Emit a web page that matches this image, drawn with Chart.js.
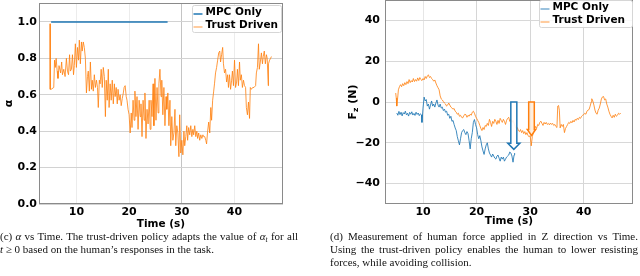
<!DOCTYPE html>
<html>
<head>
<meta charset="utf-8">
<script src="https://cdn.jsdelivr.net/npm/chart.js@4/dist/chart.umd.min.js"></script>
<style>
  body { margin: 0; background: #fff; width: 640px; height: 276px; overflow: hidden; position: relative; }
  canvas { position: absolute; top: 0; }
  .cap { position: absolute; font-family: 'Liberation Serif', serif; font-size: 11px; line-height: 13px; text-align: justify; color: #111; }
  .cap sub { font-size: 7.5px; line-height: 0; vertical-align: -2px; }
  .nw { white-space: nowrap; }
</style>
</head>
<body>
<canvas id="alphaChart" width="320" height="231" style="left:0"></canvas>
<canvas id="forceChart" width="320" height="231" style="left:320px"></canvas>
<div class="cap" style="left:0;top:230px;width:298px">(c) <i>α</i> vs Time. The trust-driven policy adapts the value of <i>α<sub>t</sub></i> for all <span class="nw"><i>t</i> ≥ 0</span> based on the human’s responses in the task.</div>
<div class="cap" style="left:330px;top:230px;width:308px">(d) Measurement of human force applied in Z direction vs Time. Using the trust-driven policy enables the human to lower resisting forces, while avoiding collision.</div>
<script>
// ---- data ----
const timeTicks = [10, 20, 30, 40];
const alphaTicks = [0, 0.2, 0.4, 0.6, 0.8, 1.0];
const forceTicks = [-40, -20, 0, 20, 40];

// (c) alpha vs time
const mpcAlphaTime = [5.2, 27.3];
const mpcAlpha = [1.0, 1.0];

const trustAlphaTime = [
  5.0, 5.03, 5.2, 5.7, 5.85, 6.0, 6.15, 6.35, 6.5, 6.7,
  7.0, 7.2, 7.35, 7.6, 7.85, 8.1, 8.3, 8.5, 8.7, 8.85,
  9.05, 9.25, 9.45, 9.6, 9.8, 10.0, 10.2, 10.4, 10.55, 10.75,
  10.95, 11.1, 11.3, 11.5, 11.7, 11.9, 12.1, 12.25, 12.45, 12.65,
  12.85, 13.0, 13.2, 13.4, 13.6, 13.8, 14.0, 14.15, 14.35, 14.5,
  14.7, 14.9, 15.1, 15.3, 15.5, 15.65, 15.85, 16.05, 16.2, 16.4,
  16.6, 16.8, 17.0, 17.2, 17.35, 17.55, 17.75, 17.9, 18.1, 18.3,
  18.5, 18.7, 18.9, 19.05, 19.25, 19.45, 19.6, 19.8, 20.0, 20.2,
  20.4, 20.55, 20.75, 20.95, 21.1, 21.3, 21.5, 21.7, 21.9, 22.1,
  22.25, 22.45, 22.65, 22.85, 23.0, 23.2, 23.4, 23.6, 23.8, 24.0,
  24.15, 24.35, 24.55, 24.7, 24.9, 25.1, 25.3, 25.5, 25.65, 25.85,
  26.05, 26.2, 26.4, 26.6, 26.8, 27.0, 27.15, 27.35, 27.55, 27.75,
  27.9, 28.1, 28.3, 28.5, 28.7, 28.85, 29.05, 29.25, 29.45, 29.6,
  29.8, 30.0, 30.2, 30.4, 30.55, 30.75, 30.95, 31.1, 31.3, 31.5,
  31.7, 31.9, 32.1, 32.25, 32.45, 32.65, 32.85, 33.0, 33.2, 33.4,
  33.6, 33.8, 34.0, 34.15, 34.35, 34.55, 34.7, 34.9, 35.1, 35.3,
  35.5, 35.65, 35.85, 36.05, 36.2, 36.4, 36.6, 36.8, 37.0, 37.2,
  37.35, 37.55, 37.75, 37.9, 38.1, 38.3, 38.5, 38.7, 38.85, 39.05,
  39.25, 39.45, 39.6, 39.8, 40.0, 40.2, 40.4, 40.55, 40.75, 40.95,
  41.1, 41.3, 41.5, 41.7, 41.9, 42.1, 42.25, 42.45, 42.65, 42.85,
  43.0, 43.2, 43.45, 43.7, 44.0, 44.15, 44.35, 44.55, 44.7, 44.9,
  45.1, 45.3, 45.45, 45.65, 45.85, 46.05, 46.2, 46.4, 46.45, 46.65,
  46.85, 47.0
];
const trustAlpha = [
  0.99, 0.63, 0.63, 0.64, 0.79, 0.75, 0.80, 0.73, 0.69, 0.76,
  0.72, 0.78, 0.71, 0.74, 0.70, 0.80, 0.73, 0.71, 0.82, 0.73,
  0.74, 0.82, 0.71, 0.76, 0.88, 0.75, 0.86, 0.79, 0.90, 0.77,
  0.89, 0.84, 0.89, 0.86, 0.80, 0.61, 0.70, 0.73, 0.62, 0.78,
  0.63, 0.68, 0.62, 0.71, 0.64, 0.68, 0.64, 0.53, 0.68, 0.66,
  0.74, 0.64, 0.75, 0.70, 0.48, 0.68, 0.57, 0.74, 0.53, 0.66,
  0.57, 0.68, 0.55, 0.66, 0.59, 0.64, 0.55, 0.63, 0.57, 0.60,
  0.54, 0.58, 0.61, 0.64, 0.65, 0.59, 0.57, 0.52, 0.49, 0.39,
  0.50, 0.42, 0.57, 0.46, 0.62, 0.48, 0.59, 0.41, 0.57, 0.48,
  0.55, 0.37, 0.57, 0.46, 0.61, 0.36, 0.52, 0.44, 0.57, 0.41,
  0.57, 0.48, 0.66, 0.43, 0.69, 0.46, 0.64, 0.50, 0.66, 0.74,
  0.59, 0.68, 0.49, 0.64, 0.43, 0.59, 0.52, 0.61, 0.43, 0.57,
  0.32, 0.48, 0.35, 0.39, 0.52, 0.32, 0.43, 0.39, 0.26, 0.49,
  0.28, 0.35, 0.27, 0.40, 0.32, 0.37, 0.43, 0.35, 0.42, 0.38,
  0.43, 0.37, 0.41, 0.38, 0.43, 0.37, 0.40, 0.36, 0.39, 0.35,
  0.38, 0.36, 0.38, 0.37, 0.37, 0.35, 0.33, 0.40, 0.45, 0.39,
  0.53, 0.46, 0.57, 0.62, 0.66, 0.72, 0.75, 0.79, 0.83, 0.84,
  0.78, 0.82, 0.86, 0.77, 0.72, 0.74, 0.67, 0.71, 0.64, 0.71,
  0.63, 0.68, 0.73, 0.65, 0.79, 0.64, 0.67, 0.74, 0.65, 0.78,
  0.68, 0.71, 0.64, 0.68, 0.65, 0.64, 0.53, 0.49, 0.56, 0.47,
  0.64, 0.63, 0.64, 0.64, 0.65, 0.72, 0.75, 0.88, 0.74, 0.78,
  0.83, 0.77, 0.81, 0.84, 0.77, 0.82, 0.80, 0.65, 0.77, 0.79,
  0.80, 0.81
];

// (d) force in Z vs time
const mpcForceTime = [
  5.1, 5.3, 5.5, 5.7, 5.9, 6.1, 6.3, 6.5, 6.7, 6.9,
  7.1, 7.3, 7.5, 7.7, 7.9, 8.1, 8.3, 8.5, 8.7, 8.9,
  9.1, 9.3, 9.5, 9.7, 9.8, 10.0, 10.2, 10.4, 10.6, 10.8,
  11.0, 11.2, 11.4, 11.6, 11.8, 12.0, 12.2, 12.4, 12.6, 12.8,
  13.0, 13.2, 13.4, 13.6, 13.8, 14.0, 14.2, 14.4, 14.6, 14.8,
  15.0, 15.2, 15.4, 15.6, 15.8, 16.0, 16.2, 16.4, 16.6, 16.8,
  17.0, 17.2, 17.4, 17.6, 17.8, 18.0, 18.2, 18.4, 18.6, 18.8,
  19.0, 19.2, 19.4, 19.6, 19.8, 20.0, 20.2, 20.4, 20.6, 20.8,
  21.0, 21.2, 21.4, 21.6, 21.8, 22.0, 22.2, 22.4, 22.6, 22.8,
  23.0, 23.2, 23.4, 23.6, 23.8, 24.0, 24.2, 24.4, 24.6, 24.8,
  25.0, 25.2, 25.4, 25.6, 25.8, 26.0, 26.2, 26.4, 26.6, 26.8,
  27.0, 27.1
];
const mpcForce = [
  -5.4, -6.5, -4.6, -6.2, -5.0, -6.8, -5.2, -5.9, -4.5, -6.3,
  -5.5, -6.9, -5.1, -6.0, -4.8, -6.4, -5.6, -6.6, -5.0, -6.1,
  -5.4, -6.7, -5.8, -6.3, -10, -3, 2.4, 0.5, 1.2, -2,
  -1, -3.5, -1.5, 0.5, -2, -1, -2.5, -0.5, 1, -1.5,
  -2.5, -1, -3, -2.5, -4.2, -3.5, -5, -4.5, -6.5, -6,
  -8, -7, -9.5, -9, -11, -12.7, -14, -17, -19, -21,
  -18, -15, -14, -13.5, -15, -16, -14.5, -15.5, -19, -23,
  -18, -15, -10, -8.6, -11, -12.7, -16, -18, -16.5, -19,
  -22, -24, -25.7, -23, -21, -20, -23, -25, -26, -27,
  -25.5, -26.5, -27.5, -28, -26.5, -26, -27.5, -29, -27, -28,
  -27, -29, -28, -27, -26.5, -26, -24.5, -25, -26.5, -29.5,
  -26, -25
];

const trustForceTime = [
  4.9, 5.0, 5.1, 5.3, 5.4, 5.6, 5.8, 6.0, 6.2, 6.4,
  6.6, 6.8, 7.0, 7.2, 7.4, 7.6, 7.8, 8.0, 8.2, 8.4,
  8.6, 8.8, 9.0, 9.2, 9.4, 9.6, 9.8, 10.0, 10.2, 10.4,
  10.6, 10.8, 11.0, 11.2, 11.4, 11.6, 11.8, 12.0, 12.2, 12.4,
  12.6, 12.8, 13.0, 13.2, 13.4, 13.6, 13.8, 14.0, 14.2, 14.4,
  14.6, 14.8, 15.0, 15.2, 15.4, 15.6, 15.8, 16.0, 16.2, 16.4,
  16.6, 16.8, 17.0, 17.2, 17.4, 17.6, 17.8, 18.0, 18.2, 18.4,
  18.6, 18.8, 19.0, 19.2, 19.4, 19.6, 19.8, 20.0, 20.2, 20.4,
  20.6, 20.8, 21.0, 21.2, 21.4, 21.6, 21.8, 22.0, 22.2, 22.4,
  22.6, 22.8, 23.0, 23.2, 23.4, 23.6, 23.8, 24.0, 24.2, 24.4,
  24.6, 24.8, 25.0, 25.2, 25.4, 25.6, 25.8, 26.0, 26.2, 26.4,
  26.6, 26.8, 27.0, 27.2, 27.4, 27.6, 27.8, 28.0, 28.2, 28.4,
  28.6, 28.8, 29.0, 29.2, 29.4, 29.6, 29.8, 30.0, 30.2, 30.4,
  30.6, 30.8, 31.0, 31.2, 31.4, 31.6, 31.8, 32.0, 32.2, 32.4,
  32.6, 32.8, 33.0, 33.2, 33.4, 33.6, 33.8, 34.0, 34.2, 34.4,
  34.6, 34.8, 35.0, 35.15, 35.3, 35.45, 35.6, 35.8, 36.0, 36.2,
  36.4, 36.6, 36.8, 37.0, 37.2, 37.4, 37.6, 37.8, 38.0, 38.2,
  38.4, 38.6, 38.8, 39.0, 39.2, 39.4, 39.6, 39.8, 40.0, 40.2,
  40.4, 40.6, 40.8, 41.0, 41.2, 41.4, 41.5, 41.7, 41.9, 42.1,
  42.3, 42.5, 42.7, 42.9, 43.1, 43.3, 43.5, 43.7, 43.9, 44.1,
  44.3, 44.5, 44.7, 44.9, 45.1, 45.3, 45.5, 45.7, 45.9, 46.1,
  46.3, 46.5, 46.7, 46.9
];
const trustForce = [
  4.4, 2, -2, 3, 6, 7.5, 8.5, 7.5, 9, 8,
  9.5, 8.5, 10, 9, 11, 9.5, 10.5, 9.8, 11.5, 10,
  11, 10.2, 11.8, 10.5, 12, 11, 10.5, 11.5, 10.8, 12.5,
  11.5, 12.8, 13.3, 12, 12.5, 11.5, 11, 10.2, 10.8, 9.3,
  8, 7, 6, 3, 1.5, 1, 0.2, -0.5, -1, -2,
  -1.5, -0.5, -1.5, -2.5, -3, -3.5, -3.2, -4.5, -5, -6,
  -5.5, -7, -6.5, -7.5, -7.8, -6.8, -6, -6.2, -7.5, -6.5,
  -7, -6, -6.5, -5, -4.5, -5.5, -7, -8, -9, -10,
  -11.5, -13, -14, -12.5, -13.5, -11.5, -12, -10.5, -11.5, -8.5,
  -10, -12, -9.5, -10.5, -8.5, -9.5, -11, -9, -10.5, -8,
  -9, -10, -8.5, -9.5, -11, -9, -8, -7.5, -9.5, -8.5,
  -10, -9, -10.5, -12, -13, -12.5, -14, -14.5, -13.5, -15,
  -14, -15.5, -14.5, -16, -15, -16.5, -17, -16.5, -21.5, -17,
  -15, -13.5, -12, -13, -11, -11.5, -10, -9.4, -10.5, -11.5,
  -10, -10.8, -10, -11, -10.5, -11.2, -10.3, -11, -10.5, -11.5,
  -11, -12, -12.5, -2, -1.7, -4, -12.7, -11, -12, -11,
  -15, -13, -12, -11, -10, -10.5, -9.5, -10.2, -9, -9.8,
  -8.5, -9, -8, -8.6, -7.5, -8, -7, -6.5, -6.2, -5.5,
  -6, -4.5, -4, -3.7, -2, 0, 1.6, 0.5, -1.5, -4,
  -5.5, -6, -4, -3, -1, 1.5, 2.5, 2.7, 1, 1.5,
  -1, -2.5, -4.5, -6, -7, -7.8, -6.5, -7.5, -6, -7,
  -6.5, -5.5, -6, -5.4
];

// hollow arrows marking the force drop (time, start, tip)
const arrowTime = [26.95, 30.25];
const arrowStart = [0, 0];
const arrowTip = [-23.2, -16.4];

// ---- helpers ----
const FONT = "'DejaVu Sans', sans-serif";
Chart.defaults.font.family = FONT;
Chart.defaults.color = '#000';

const pts = (xs, ys) => xs.map((x, i) => ({ x: x, y: ys[i] }));

// keep chart.js from reserving room for half a tick label at the axis ends
const noEndPad = s => { s.paddingTop = 0; s.paddingBottom = 0; s.paddingLeft = 0; s.paddingRight = 0; };

const framePlugin = {
  id: 'frame',
  afterDatasetsDraw(chart) {
    const { ctx, chartArea: a } = chart;
    ctx.save();
    ctx.strokeStyle = '#8a8a8a';
    ctx.lineWidth = 1;
    ctx.strokeRect(Math.round(a.left) + 0.5, Math.round(a.top) + 0.5,
      Math.round(a.right - a.left) - 1, Math.round(a.bottom - a.top) - 1);
    ctx.restore();
  }
};

const boxLegend = {
  id: 'boxLegend',
  afterDraw(chart, args, o) {
    const { ctx, chartArea: a } = chart;
    const sets = chart.data.datasets;
    ctx.save();
    ctx.font = 'bold ' + o.size + 'px ' + FONT;
    const tw = Math.max(...sets.map(d => ctx.measureText(d.label).width));
    const w = tw + 14 + o.padR, h = sets.length * 13 + 1;
    const x = a.right - o.right - w, y = a.top + o.top;
    ctx.fillStyle = 'rgba(255,255,255,0.85)';
    ctx.strokeStyle = '#d6d6d6';
    ctx.lineWidth = 1;
    ctx.beginPath();
    ctx.roundRect(Math.round(x) + 0.5, Math.round(y) + 0.5, Math.round(w), h, 2);
    ctx.fill();
    ctx.stroke();
    sets.forEach((d, i) => {
      const cy = y + 7 + i * 13;
      ctx.strokeStyle = d.legendColor;
      ctx.lineWidth = d.legendWidth;
      ctx.beginPath();
      ctx.moveTo(x + 1, cy + 2);
      ctx.lineTo(x + 10, cy + 2);
      ctx.stroke();
      ctx.fillStyle = '#000';
      ctx.textBaseline = 'middle';
      ctx.fillText(d.label, x + 13, cy);
    });
    ctx.restore();
  }
};

function xScale(extra) {
  return Object.assign({
    type: 'linear', min: 2.9, max: 49.2,
    afterBuildTicks: s => { s.ticks = timeTicks.map(v => ({ value: v })); },
    afterFit: s => { s.height = 27; noEndPad(s); },
    grid: { drawTicks: false, color: '#e3e3e3' },
    border: { display: false },
    ticks: { padding: 2, font: { size: 11, weight: 'bold' }, color: '#000' },
    title: { display: true, text: 'Time (s)', font: { size: 10.5, weight: 'bold' }, color: '#000', padding: 0 }
  }, extra);
}

// ---- (c) alpha chart ----
new Chart(document.getElementById('alphaChart'), {
  type: 'line',
  data: {
    datasets: [
      { label: 'MPC Only', data: pts(mpcAlphaTime, mpcAlpha), borderColor: '#1f77b4', borderWidth: 1.5,
        legendColor: '#1f77b4', legendWidth: 1.5 },
      { label: 'Trust Driven', data: pts(trustAlphaTime, trustAlpha), borderColor: 'rgba(255,127,14,0.8)', borderWidth: 1,
        legendColor: 'rgba(255,127,14,0.4)', legendWidth: 2 }
    ]
  },
  options: {
    responsive: false, animation: false, events: [],
    elements: { point: { radius: 0 }, line: { tension: 0 } },
    layout: { padding: { top: 3, right: 37, left: 0, bottom: 0 } },
    scales: {
      x: xScale({
        grid: { drawTicks: false, color: c => c.tick && c.tick.value === 30 ? '#c4c4c4' : '#ececec' }
      }),
      y: {
        min: 0, max: 1.104,
        afterBuildTicks: s => { s.ticks = alphaTicks.map(v => ({ value: v })); },
        afterFit: s => { s.width = 39; noEndPad(s); },
        grid: { drawTicks: false, color: '#d2d2d2' },
        border: { display: false },
        ticks: { padding: 2, font: { size: 11, weight: 'bold' }, color: '#000', callback: v => v.toFixed(1) },
        title: { display: true, text: 'α', font: { size: 11, weight: 'bold' }, color: '#000', padding: { top: 3, bottom: 0 } }
      }
    },
    plugins: {
      legend: { display: false }, tooltip: { enabled: false },
      boxLegend: { right: 2, top: 2, size: 10.5, padR: 2 }
    }
  },
  plugins: [framePlugin, boxLegend]
});

// ---- (d) force chart ----
const arrowPlugin = {
  id: 'arrows',
  afterDatasetsDraw(chart) {
    const { ctx, scales: { x, y } } = chart;
    const styles = [
      { stroke: '#1f77b4', fill: 'rgba(255,255,255,0.9)', shaft: 3, head: 6, len: 6 },
      { stroke: '#ff7f0e', fill: 'rgba(255,235,215,0.8)', shaft: 2.8, head: 4.2, len: 6 }
    ];
    arrowTime.forEach((t, i) => {
      const st = styles[i];
      const cx = x.getPixelForValue(t);
      const y0 = y.getPixelForValue(arrowStart[i]);
      const y1 = y.getPixelForValue(arrowTip[i]);
      const yb = y1 - st.len;
      ctx.save();
      ctx.beginPath();
      ctx.moveTo(cx - st.shaft, y0);
      ctx.lineTo(cx + st.shaft, y0);
      ctx.lineTo(cx + st.shaft, yb);
      ctx.lineTo(cx + st.head, yb);
      ctx.lineTo(cx, y1);
      ctx.lineTo(cx - st.head, yb);
      ctx.lineTo(cx - st.shaft, yb);
      ctx.closePath();
      ctx.fillStyle = st.fill;
      ctx.fill();
      ctx.strokeStyle = st.stroke;
      ctx.lineWidth = 1.5;
      ctx.stroke();
      ctx.restore();
    });
  }
};

const fzTitle = {
  id: 'fzTitle',
  afterDraw(chart) {
    const { ctx, chartArea: a } = chart;
    const big = 'bold 11px ' + FONT, small = 'bold 7.5px ' + FONT;
    ctx.save();
    ctx.font = big;
    const wF = ctx.measureText('F').width, wN = ctx.measureText(' (N)').width;
    ctx.font = small;
    const wz = ctx.measureText('z').width;
    const total = wF + wz + wN;
    ctx.translate(33, (a.top + a.bottom) / 2);
    ctx.rotate(-Math.PI / 2);
    ctx.fillStyle = '#000';
    ctx.textBaseline = 'middle';
    let px = -total / 2;
    ctx.font = big; ctx.fillText('F', px, 0); px += wF;
    ctx.font = small; ctx.fillText('z', px, 3); px += wz;
    ctx.font = big; ctx.fillText(' (N)', px, 0);
    ctx.restore();
  }
};

new Chart(document.getElementById('forceChart'), {
  type: 'line',
  data: {
    datasets: [
      { label: 'MPC Only', data: pts(mpcForceTime, mpcForce), borderColor: 'rgba(31,119,180,0.85)', borderWidth: 1,
        legendColor: 'rgba(31,119,180,0.6)', legendWidth: 1.5 },
      { label: 'Trust Driven', data: pts(trustForceTime, trustForce), borderColor: 'rgba(255,127,14,0.8)', borderWidth: 1,
        legendColor: 'rgba(255,127,14,0.4)', legendWidth: 2 }
    ]
  },
  options: {
    responsive: false, animation: false, events: [],
    elements: { point: { radius: 0 }, line: { tension: 0 } },
    layout: { padding: { top: 0, right: 7, left: 0, bottom: 0 } },
    scales: {
      x: xScale({
        grid: { drawTicks: false, color: c => c.tick && c.tick.value === 10 ? '#e6e6e6' : '#d6d6d6' },
        title: { display: true, text: 'Time (s)', font: { size: 10.5, weight: 'bold' }, color: '#000', padding: { top: 0, bottom: 3 } }
      }),
      y: {
        min: -50, max: 50,
        afterBuildTicks: s => { s.ticks = forceTicks.map(v => ({ value: v })); },
        afterFit: s => { s.width = 65; noEndPad(s); },
        grid: { drawTicks: false, color: '#d8d8d8' },
        border: { display: false },
        ticks: { padding: 5, font: { size: 11, weight: 'bold' }, color: '#000',
          callback: v => v < 0 ? '\u2212' + Math.abs(v) : String(v) },
        title: { display: false }
      }
    },
    plugins: {
      legend: { display: false }, tooltip: { enabled: false },
      boxLegend: { right: 1, top: 0, size: 10.5, padR: 6 }
    }
  },
  plugins: [arrowPlugin, framePlugin, boxLegend, fzTitle]
});
</script>
</body>
</html>
